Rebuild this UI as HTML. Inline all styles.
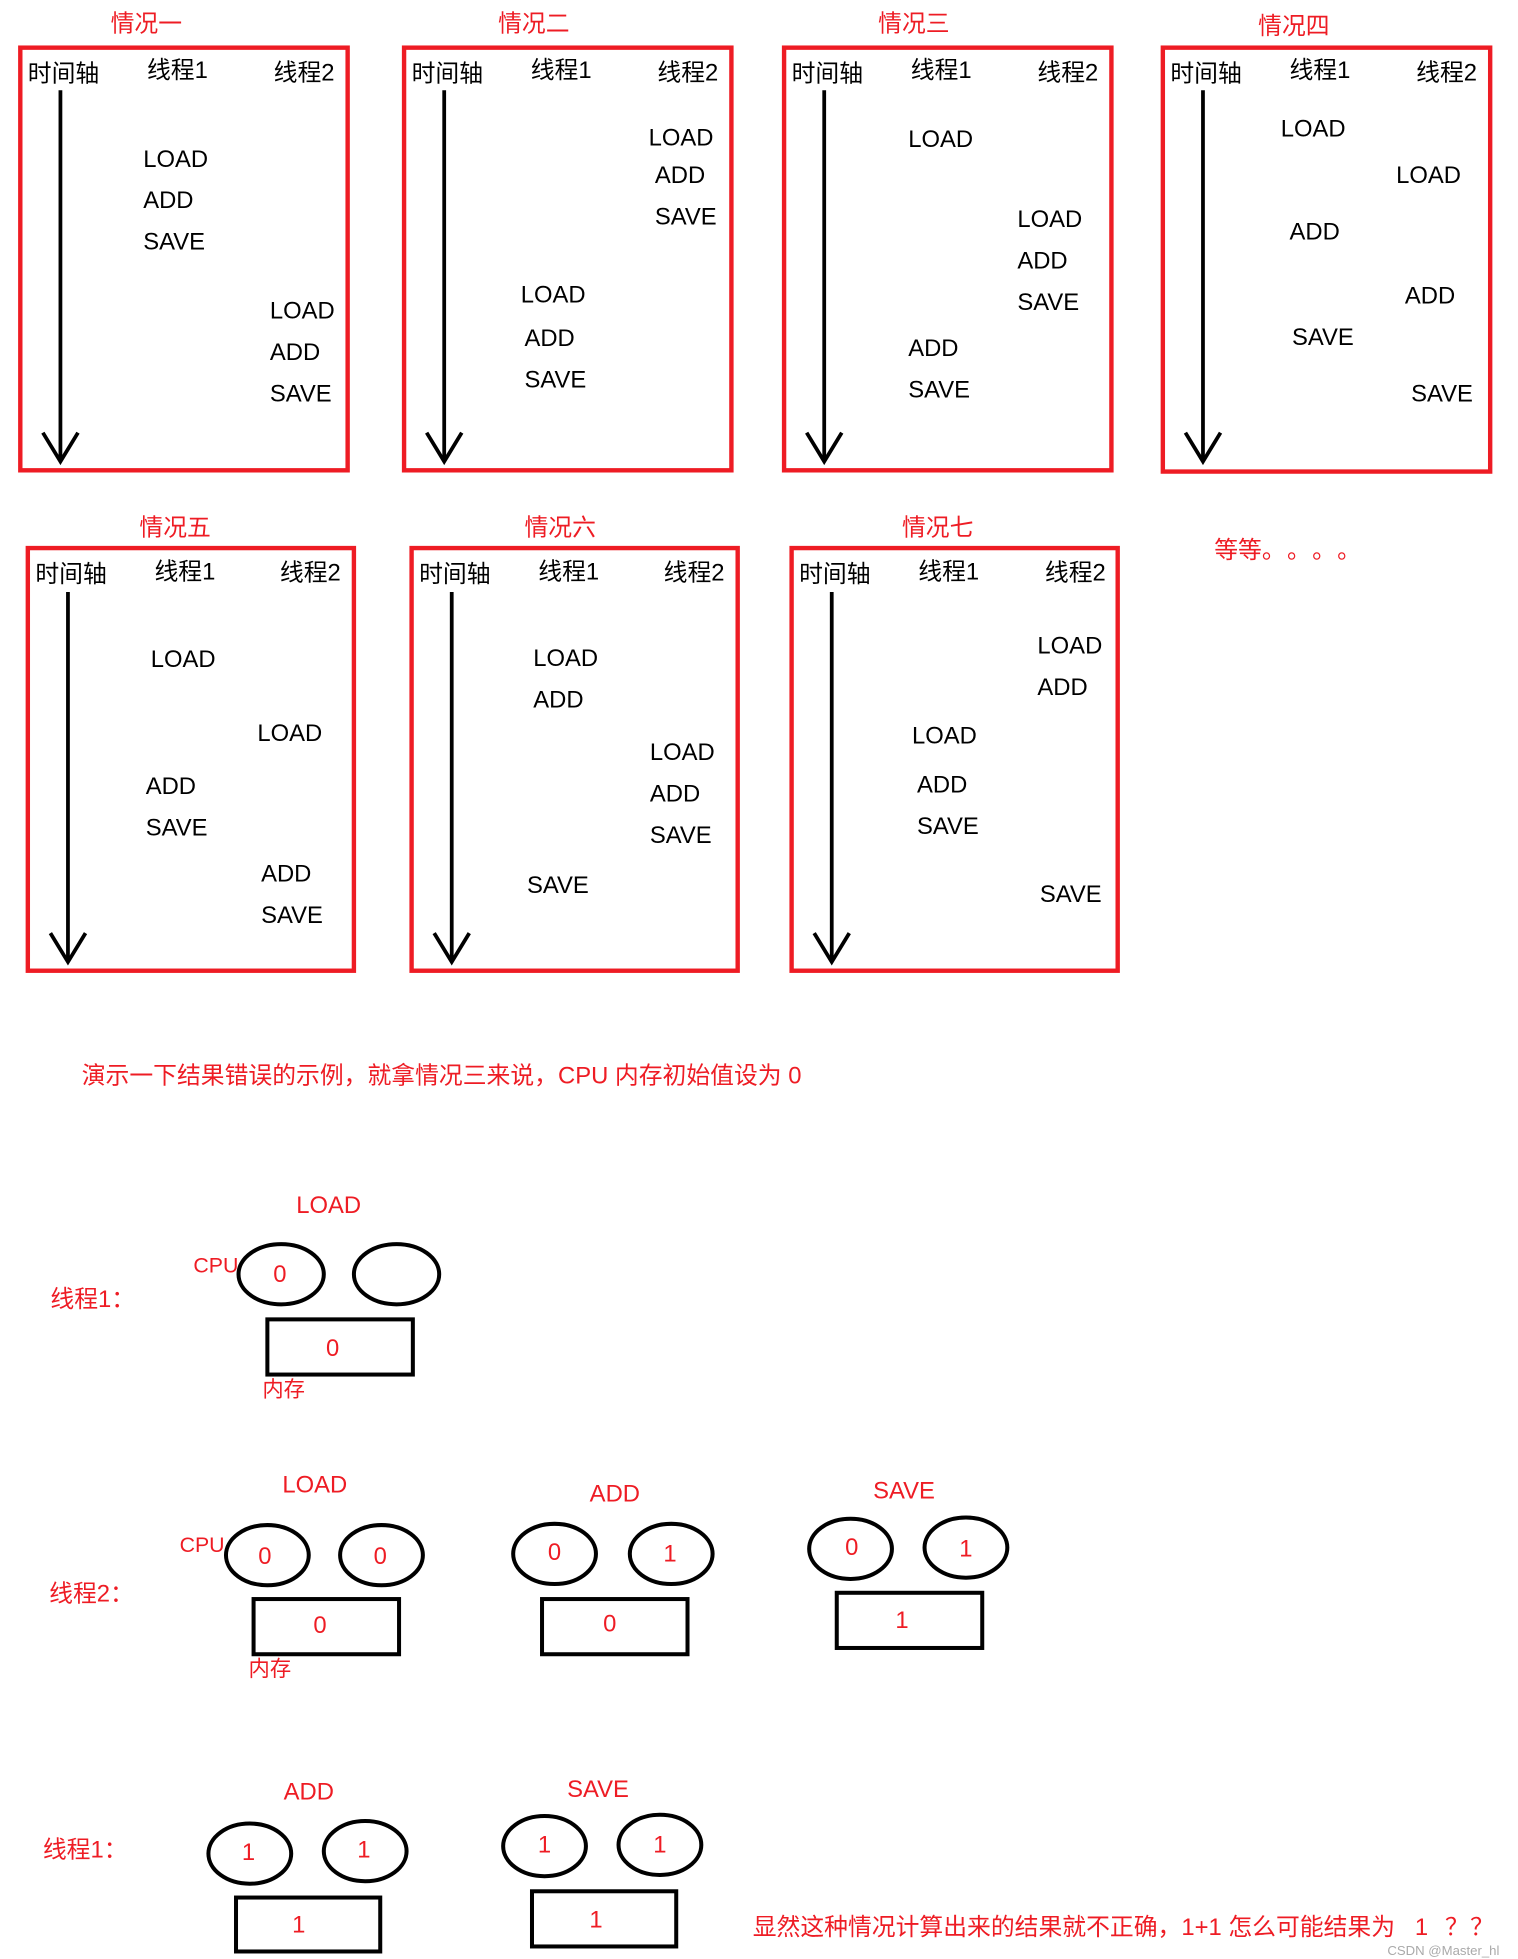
<!DOCTYPE html>
<html><head><meta charset="utf-8">
<style>
html,body{margin:0;padding:0;background:#fff;}
svg{display:block;}
text{font-family:"Liberation Sans","Noto Sans CJK SC",sans-serif;}
.k{fill:#000;font-size:19px;}
.h{fill:#000;font-size:19px;}
.r{fill:#ee1c24;font-size:19px;}
.rs{fill:#ee1c24;font-size:17px;}
.box{fill:none;stroke:#ee1c24;stroke-width:3.5;}
.ax{stroke:#000;stroke-width:3;fill:none;}
.el{fill:none;stroke:#000;stroke-width:3.2;}
.rc{fill:none;stroke:#000;stroke-width:3.2;}
</style></head>
<body>
<svg width="1518" height="1959" viewBox="0 0 1210 1562" xmlns="http://www.w3.org/2000/svg" dominant-baseline="middle">
<g>
<text class="r" x="88" y="20">情况一</text>
<rect class="box" x="16" y="38" width="261" height="337"/>
<text class="h" x="22" y="60">时间轴</text><text class="h" x="117" y="57">线程1</text><text class="h" x="218" y="59">线程2</text>
<line class="ax" x1="48" y1="72" x2="48" y2="367"/><polyline class="ax" points="34,345 48,368 62,345"/>
<text class="k" x="114" y="128">LOAD</text><text class="k" x="114" y="161">ADD</text><text class="k" x="114" y="194">SAVE</text>
<text class="k" x="215" y="249">LOAD</text><text class="k" x="215" y="282">ADD</text><text class="k" x="215" y="315">SAVE</text>
</g>
<g>
<text class="r" x="397" y="20">情况二</text>
<rect class="box" x="322" y="38" width="261" height="337"/>
<text class="h" x="328" y="60">时间轴</text><text class="h" x="423" y="57">线程1</text><text class="h" x="524" y="59">线程2</text>
<line class="ax" x1="354" y1="72" x2="354" y2="367"/><polyline class="ax" points="340,345 354,368 368,345"/>
<text class="k" x="517" y="111">LOAD</text><text class="k" x="522" y="141">ADD</text><text class="k" x="522" y="174">SAVE</text>
<text class="k" x="415" y="236">LOAD</text><text class="k" x="418" y="271">ADD</text><text class="k" x="418" y="304">SAVE</text>
</g>
<g>
<text class="r" x="700" y="20">情况三</text>
<rect class="box" x="625" y="38" width="261" height="337"/>
<text class="h" x="631" y="60">时间轴</text><text class="h" x="726" y="57">线程1</text><text class="h" x="827" y="59">线程2</text>
<line class="ax" x1="657" y1="72" x2="657" y2="367"/><polyline class="ax" points="643,345 657,368 671,345"/>
<text class="k" x="724" y="112">LOAD</text>
<text class="k" x="811" y="176">LOAD</text><text class="k" x="811" y="209">ADD</text><text class="k" x="811" y="242">SAVE</text>
<text class="k" x="724" y="279">ADD</text><text class="k" x="724" y="312">SAVE</text>
</g>
<g>
<text class="r" x="1003" y="22">情况四</text>
<rect class="box" x="927" y="38" width="261" height="338"/>
<text class="h" x="933" y="60">时间轴</text><text class="h" x="1028" y="57">线程1</text><text class="h" x="1129" y="59">线程2</text>
<line class="ax" x1="959" y1="72" x2="959" y2="367"/><polyline class="ax" points="945,345 959,368 973,345"/>
<text class="k" x="1021" y="104">LOAD</text><text class="k" x="1113" y="141">LOAD</text>
<text class="k" x="1028" y="186">ADD</text><text class="k" x="1120" y="237">ADD</text>
<text class="k" x="1030" y="270">SAVE</text><text class="k" x="1125" y="315">SAVE</text>
</g>
<g>
<text class="r" x="111" y="422">情况五</text>
<rect class="box" x="22" y="437" width="260" height="337"/>
<text class="h" x="28" y="459">时间轴</text><text class="h" x="123" y="457">线程1</text><text class="h" x="223" y="458">线程2</text>
<line class="ax" x1="54" y1="472" x2="54" y2="766"/><polyline class="ax" points="40,744 54,767 68,744"/>
<text class="k" x="120" y="527">LOAD</text><text class="k" x="205" y="586">LOAD</text>
<text class="k" x="116" y="628">ADD</text><text class="k" x="116" y="661">SAVE</text>
<text class="k" x="208" y="698">ADD</text><text class="k" x="208" y="731">SAVE</text>
</g>
<g>
<text class="r" x="418" y="422">情况六</text>
<rect class="box" x="328" y="437" width="260" height="337"/>
<text class="h" x="334" y="459">时间轴</text><text class="h" x="429" y="457">线程1</text><text class="h" x="529" y="458">线程2</text>
<line class="ax" x1="360" y1="472" x2="360" y2="766"/><polyline class="ax" points="346,744 360,767 374,744"/>
<text class="k" x="425" y="526">LOAD</text><text class="k" x="425" y="559">ADD</text>
<text class="k" x="518" y="601">LOAD</text><text class="k" x="518" y="634">ADD</text><text class="k" x="518" y="667">SAVE</text>
<text class="k" x="420" y="707">SAVE</text>
</g>
<g>
<text class="r" x="719" y="422">情况七</text>
<rect class="box" x="631" y="437" width="260" height="337"/>
<text class="h" x="637" y="459">时间轴</text><text class="h" x="732" y="457">线程1</text><text class="h" x="833" y="458">线程2</text>
<line class="ax" x1="663" y1="472" x2="663" y2="766"/><polyline class="ax" points="649,744 663,767 677,744"/>
<text class="k" x="827" y="516">LOAD</text><text class="k" x="827" y="549">ADD</text>
<text class="k" x="727" y="588">LOAD</text><text class="k" x="731" y="627">ADD</text><text class="k" x="731" y="660">SAVE</text>
<text class="k" x="829" y="714">SAVE</text>
</g>
<text class="r" x="968" y="440">等等</text>
<text class="r" x="1006" y="440">。</text><text class="r" x="1026" y="440">。</text><text class="r" x="1046" y="440">。</text><text class="r" x="1066" y="440">。</text>

<text class="r" x="65" y="859" style="font-size:19px">演示一下结果错误的示例，就拿情况三来说，CPU 内存初始值设为 0</text>

<text class="r" x="236" y="962">LOAD</text>
<text class="r" x="40" y="1037">线程1：</text>
<text class="rs" x="154" y="1010">CPU</text>
<ellipse class="el" cx="224" cy="1016" rx="34" ry="24"/><text class="r" x="223" y="1017" text-anchor="middle">0</text>
<ellipse class="el" cx="316" cy="1016" rx="34" ry="24"/>
<rect class="rc" x="213" y="1052" width="116" height="44"/><text class="r" x="265" y="1076" text-anchor="middle">0</text>
<text class="rs" x="209" y="1109">内存</text>

<text class="r" x="225" y="1185">LOAD</text>
<text class="r" x="39" y="1272">线程2：</text>
<text class="rs" x="143" y="1233">CPU</text>
<ellipse class="el" cx="213" cy="1240" rx="33" ry="24"/><text class="r" x="211" y="1242" text-anchor="middle">0</text>
<ellipse class="el" cx="304" cy="1240" rx="33" ry="24"/><text class="r" x="303" y="1242" text-anchor="middle">0</text>
<rect class="rc" x="202" y="1275" width="116" height="44"/><text class="r" x="255" y="1297" text-anchor="middle">0</text>
<text class="rs" x="198" y="1332">内存</text>

<text class="r" x="470" y="1192">ADD</text>
<ellipse class="el" cx="442" cy="1239" rx="33" ry="24"/><text class="r" x="442" y="1239" text-anchor="middle">0</text>
<ellipse class="el" cx="535" cy="1239" rx="33" ry="24"/><text class="r" x="534" y="1240" text-anchor="middle">1</text>
<rect class="rc" x="432" y="1275" width="116" height="44"/><text class="r" x="486" y="1296" text-anchor="middle">0</text>

<text class="r" x="696" y="1190">SAVE</text>
<ellipse class="el" cx="678" cy="1235" rx="33" ry="24"/><text class="r" x="679" y="1235" text-anchor="middle">0</text>
<ellipse class="el" cx="770" cy="1234" rx="33" ry="24"/><text class="r" x="770" y="1236" text-anchor="middle">1</text>
<rect class="rc" x="667" y="1270" width="116" height="44"/><text class="r" x="719" y="1293" text-anchor="middle">1</text>

<text class="r" x="226" y="1430">ADD</text>
<text class="r" x="34" y="1476">线程1：</text>
<ellipse class="el" cx="199" cy="1478" rx="33" ry="24"/><text class="r" x="198" y="1478" text-anchor="middle">1</text>
<ellipse class="el" cx="291" cy="1476" rx="33" ry="24"/><text class="r" x="290" y="1476" text-anchor="middle">1</text>
<rect class="rc" x="188" y="1513" width="115" height="43"/><text class="r" x="238" y="1536" text-anchor="middle">1</text>

<text class="r" x="452" y="1428">SAVE</text>
<ellipse class="el" cx="434" cy="1472" rx="33" ry="24"/><text class="r" x="434" y="1472" text-anchor="middle">1</text>
<ellipse class="el" cx="526" cy="1471" rx="33" ry="24"/><text class="r" x="526" y="1472" text-anchor="middle">1</text>
<rect class="rc" x="424" y="1508" width="115" height="44"/><text class="r" x="475" y="1532" text-anchor="middle">1</text>

<text class="r" x="600" y="1538" style="font-size:19px">显然这种情况计算出来的结果就不正确，1+1 怎么可能结果为</text>
<text class="r" x="1128" y="1538" style="font-size:19px">1</text>
<text class="r" x="1152" y="1538" style="font-size:19px">？</text>
<text class="r" x="1172" y="1538" style="font-size:19px">？</text>
<text x="1106" y="1556" style="font-size:10.5px;fill:#aaa">CSDN @Master_hl</text>
</svg>
</body></html>
